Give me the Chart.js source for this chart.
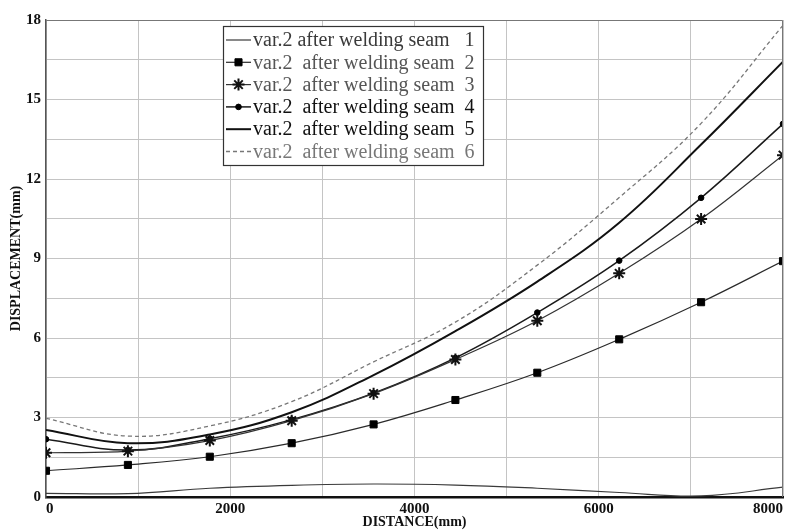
<!DOCTYPE html>
<html>
<head>
<meta charset="utf-8">
<script src="https://cdn.jsdelivr.net/npm/chart.js@4.4.1/dist/chart.umd.min.js"></script>
<style>
  html, body { margin: 0; padding: 0; background: #fff; }
</style>
</head>
<body>
<canvas id="displacementChart" width="785" height="531"></canvas>
<script>
// distance along the beam (mm) where values were sampled
const distances = [0, 889, 1778, 2667, 3556, 4444, 5333, 6222, 7111, 8000];

// displacement (mm) after each welding seam
const seam1 = [0.14, 0.13, 0.33, 0.44, 0.49, 0.45, 0.33, 0.17, 0.04, 0.37];
const seam2 = [0.99, 1.21, 1.52, 2.03, 2.74, 3.66, 4.69, 5.95, 7.35, 8.90];
const seam3 = [1.67, 1.73, 2.13, 2.88, 3.90, 5.19, 6.65, 8.44, 10.49, 12.90];
const seam4 = [2.18, 1.77, 2.20, 2.92, 3.92, 5.25, 6.96, 8.92, 11.29, 14.08];
const seam5 = [2.53, 2.03, 2.36, 3.20, 4.60, 6.26, 8.13, 10.35, 13.30, 16.43];
const seam6 = [2.97, 2.30, 2.68, 3.60, 5.10, 6.60, 8.75, 11.30, 14.10, 17.80];

const seriesLabels = [
    'var.2 after welding seam   1',
    'var.2  after welding seam  2',
    'var.2  after welding seam  3',
    'var.2  after welding seam  4',
    'var.2  after welding seam  5',
    'var.2  after welding seam  6'
];

const xTickLabels = [0, 2000, 4000, 6000, 8000];
const yTickLabels = [0, 3, 6, 9, 12, 15, 18];

const toPoints = (ys) => ys.map((y, i) => ({ x: distances[i], y: y }));

const serif = "'Liberation Serif', 'Times New Roman', serif";

// frame (top / right edges) and the boxed legend inside the plot
const framePlugin = {
    id: 'frame',
    afterDatasetsDraw(chart) {
        const { ctx, chartArea: a } = chart;
        ctx.save();
        ctx.strokeStyle = '#777';
        ctx.lineWidth = 1;
        ctx.beginPath();
        ctx.moveTo(a.left, a.top + 0.5);
        ctx.lineTo(a.right - 0.5, a.top + 0.5);
        ctx.lineTo(a.right - 0.5, a.bottom);
        ctx.stroke();
        ctx.restore();
    }
};

const boxLegend = {
    id: 'boxLegend',
    afterDraw(chart) {
        const ctx = chart.ctx;
        const left = 223, top = 26, w = 260, h = 139, row = 22.3;
        ctx.save();
        ctx.fillStyle = '#fff';
        ctx.fillRect(left, top, w, h);
        ctx.strokeStyle = '#333';
        ctx.lineWidth = 1.2;
        ctx.strokeRect(left + 0.5, top + 0.5, w, h);

        chart.data.datasets.forEach((ds, i) => {
            const y = 40 + i * row;
            ctx.strokeStyle = ds.borderColor;
            ctx.lineWidth = ds.borderWidth;
            ctx.setLineDash(ds.borderDash || []);
            ctx.beginPath();
            ctx.moveTo(226, y);
            ctx.lineTo(251, y);
            ctx.stroke();
            ctx.setLineDash([]);
            if (ds.pointRadius > 0) {
                ctx.fillStyle = ds.pointBackgroundColor;
                ctx.strokeStyle = ds.pointBorderColor;
                ctx.lineWidth = ds.pointBorderWidth;
                Chart.helpers.drawPoint(ctx, {
                    pointStyle: ds.pointStyle,
                    radius: ds.pointRadius,
                    borderWidth: ds.pointBorderWidth,
                    rotation: 0
                }, 238.5, y);
            }
            ctx.fillStyle = ds.legendColor;
            ctx.font = '20px ' + serif;
            ctx.textBaseline = 'middle';
            ctx.textAlign = 'left';
            ctx.fillText(ds.label, 253, y + 1);
        });
        ctx.restore();
    }
};

const ctx = document.getElementById('displacementChart').getContext('2d');

const chart = new Chart(ctx, {
    type: 'line',
    data: {
        datasets: [{
            label: seriesLabels[0],
            data: toPoints(seam1),
            borderColor: '#3a3a3a',
            borderWidth: 1.2,
            pointRadius: 0,
            legendColor: '#3a3a3a'
        }, {
            label: seriesLabels[1],
            data: toPoints(seam2),
            borderColor: '#2a2a2a',
            borderWidth: 1.2,
            pointStyle: 'rect',
            pointRadius: 5,
            pointBorderWidth: 1,
            pointBackgroundColor: '#000',
            pointBorderColor: '#000',
            legendColor: '#555'
        }, {
            label: seriesLabels[2],
            data: toPoints(seam3),
            borderColor: '#333',
            borderWidth: 1.2,
            pointStyle: 'star',
            pointRadius: 6,
            pointBorderWidth: 2,
            pointBackgroundColor: '#111',
            pointBorderColor: '#111',
            legendColor: '#555'
        }, {
            label: seriesLabels[3],
            data: toPoints(seam4),
            borderColor: '#1a1a1a',
            borderWidth: 1.5,
            pointStyle: 'circle',
            pointRadius: 2.8,
            pointBorderWidth: 1,
            pointBackgroundColor: '#000',
            pointBorderColor: '#000',
            legendColor: '#111'
        }, {
            label: seriesLabels[4],
            data: toPoints(seam5),
            borderColor: '#111',
            borderWidth: 2,
            pointRadius: 0,
            legendColor: '#111'
        }, {
            label: seriesLabels[5],
            data: toPoints(seam6),
            borderColor: '#777',
            borderWidth: 1.3,
            borderDash: [4, 3],
            pointRadius: 0,
            legendColor: '#777'
        }]
    },
    options: {
        responsive: false,
        animation: false,
        tension: 0.4,
        layout: { autoPadding: false, padding: { top: 20, right: 2, left: 0, bottom: 0 } },
        plugins: {
            legend: { display: false },
            tooltip: { enabled: false }
        },
        scales: {
            x: {
                type: 'linear',
                min: 0,
                max: 8000,
                afterFit: (s) => { s.height = 34; s.paddingLeft = 0; s.paddingRight = 0; },
                ticks: {
                    stepSize: 1000,
                    autoSkip: false,
                    maxRotation: 0,
                    align: 'inner',
                    padding: 3,
                    color: '#111',
                    font: { family: serif, size: 15, weight: 'bold' },
                    callback: (v) => xTickLabels.includes(v) ? String(v) : ''
                },
                grid: { color: '#c4c4c4', lineWidth: 1, drawTicks: false },
                border: { color: '#111', width: 2.5 },
                title: {
                    display: true,
                    text: 'DISTANCE(mm)',
                    color: '#111',
                    font: { family: serif, size: 14, weight: 'bold' },
                    padding: { top: 0, bottom: 0 }
                }
            },
            y: {
                min: 0,
                max: 18,
                afterFit: (s) => { s.width = 46; s.paddingTop = 0; s.paddingBottom = 0; },
                ticks: {
                    stepSize: 1.5,
                    autoSkip: false,
                    padding: 5,
                    color: '#111',
                    font: { family: serif, size: 15, weight: 'bold' },
                    callback: (v) => yTickLabels.includes(v) ? String(v) : ''
                },
                grid: { color: '#c4c4c4', lineWidth: 1, drawTicks: false },
                border: { color: '#555', width: 1.5 },
                title: {
                    display: true,
                    text: 'DISPLACEMENT(mm)',
                    color: '#111',
                    font: { family: serif, size: 14, weight: 'bold' },
                    padding: { top: 8, bottom: 0 }
                }
            }
        }
    },
    plugins: [framePlugin, boxLegend]
});
</script>
</body>
</html>
